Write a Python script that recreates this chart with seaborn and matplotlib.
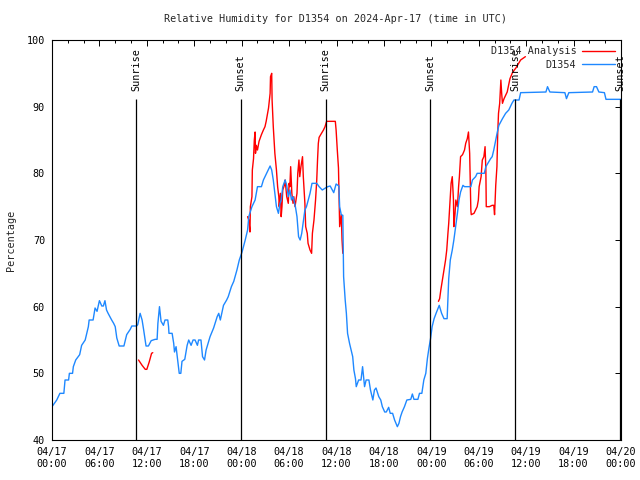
import matplotlib
matplotlib.use("Agg")

import pandas as pd
import numpy as np
import matplotlib.pyplot as plt
import matplotlib.dates as mdates
from matplotlib.lines import Line2D
import seaborn as sns

# hours since 2024-04-17 00:00 UTC, relative humidity (%)
blue_hours = [0.0, 0.6, 1.0, 1.5, 1.65, 2.1, 2.2, 2.6, 2.7, 3.0, 3.5, 3.75, 4.2, 4.6, 4.7, 5.2,
              5.45, 5.7, 6.0, 6.3, 6.5, 6.7, 6.9, 7.1, 7.55, 7.8, 8.0, 8.2, 8.5, 9.1, 9.45, 9.9,
              10.1, 10.7, 10.85, 11.15, 11.4, 11.6, 11.9, 12.2, 12.55, 13.05, 13.3, 13.4, 13.6,
              13.8, 14.1, 14.3, 14.65, 14.75, 14.8, 15.2, 15.4, 15.5, 15.7, 15.8, 16.0, 16.1,
              16.3, 16.45, 16.8, 17.1, 17.3, 17.6, 17.85, 18.1, 18.4, 18.55, 18.85, 19.05, 19.3,
              19.5, 20.0, 20.45, 20.9, 21.1, 21.3, 21.7, 22.1, 22.3, 22.7, 23.0, 23.4, 23.7,
              24.05, 24.45, 24.75, 24.9, 25.3, 25.7, 26.0, 26.5, 26.75, 27.15, 27.6, 27.8, 28.0,
              28.2, 28.4, 28.65, 28.85, 29.0, 29.2, 29.5, 29.7, 29.9, 30.1, 30.3, 30.5, 30.8,
              31.0, 31.2, 31.4, 31.6, 32.0, 32.2, 32.65, 32.9, 33.5, 33.8, 34.2, 34.6, 34.9,
              35.2, 35.65, 35.95, 36.3, 36.4, 36.6, 36.8, 36.9, 37.1, 37.25, 37.4, 37.65, 37.85,
              38.05, 38.2, 38.4, 38.5, 38.8, 39.1, 39.3, 39.55, 39.75, 40.1, 40.3, 40.6, 40.8,
              41.0, 41.35, 41.6, 41.8, 42.1, 42.3, 42.6, 42.8, 43.1, 43.35, 43.7, 43.9, 44.1,
              44.3, 44.6, 44.9, 45.4, 45.6, 45.8, 46.3, 46.5, 46.8, 47.05, 47.3, 47.5, 47.7,
              47.9, 48.1, 48.35, 48.6, 49.0, 49.3, 49.6, 50.0, 50.2, 50.4, 50.65, 50.85, 51.05,
              51.3, 51.5, 51.7, 52.0, 52.2, 53.0, 53.2, 53.6, 53.8, 54.7, 54.9, 55.5, 55.7, 55.9,
              56.15, 56.35, 56.55, 57.0, 57.4, 57.8, 58.2, 58.45, 59.1, 59.3, 62.5, 62.7, 63.0,
              64.9, 65.1, 65.4, 68.4, 68.6, 68.9, 69.2, 69.9, 70.1, 72.0]
blue_rh = [45.0, 46.0, 47.0, 47.0, 49.0, 49.0, 50.0, 50.0, 51.0, 52.0, 52.8, 54.2, 55.0, 57.0, 58.0, 58.0,
           59.8, 59.3, 60.9, 60.1, 60.1, 60.9, 59.5, 59.0, 58.0, 57.5, 57.0, 55.3, 54.1, 54.1, 55.8, 56.6,
           57.1, 57.1, 57.3, 59.0, 58.0, 56.5, 54.1, 54.1, 54.9, 55.1, 55.1, 57.5, 60.0,
           57.8, 57.2, 58.0, 58.0, 57.0, 56.0, 56.0, 54.5, 53.2, 54.0, 53.0, 51.0, 50.0,
           50.0, 51.8, 52.1, 54.2, 55.0, 54.2, 55.0, 55.0, 54.2, 55.0, 55.0, 52.5, 52.0,
           53.5, 55.5, 56.8, 58.5, 59.0, 58.0, 60.2, 61.0, 61.5, 63.0, 63.8, 65.5, 67.0,
           68.2, 70.0, 71.5, 73.5, 75.0, 76.0, 78.0, 78.0, 79.0, 80.0, 81.1, 80.5, 79.0,
           77.0, 75.0, 74.0, 75.5, 76.0, 78.0, 79.0, 78.2, 76.5, 77.5, 76.0, 76.5, 75.0,
           73.5, 70.5, 70.0, 71.0, 74.5, 75.0, 77.0, 78.5, 78.5, 78.0, 77.5, 77.8, 78.0,
           78.1, 77.1, 78.4, 78.1, 75.0, 73.8, 73.7, 64.5, 61.0, 59.0, 56.0, 54.5, 53.5,
           52.5, 50.5, 49.2, 48.0, 49.0, 49.0, 51.0, 48.0, 49.0, 49.0, 47.5, 46.0, 47.5,
           47.8, 46.5, 46.0, 45.0, 44.2, 44.2, 44.9, 44.0, 44.0, 43.0, 42.0, 42.5, 43.5,
           44.2, 45.0, 46.0, 46.1, 46.9, 46.1, 46.1, 47.0, 47.0, 49.0, 50.0, 52.2, 53.8,
           55.2, 57.0, 58.2, 59.0, 60.2, 59.0, 58.2, 58.2, 64.2, 67.0, 68.5, 70.0, 71.8,
           74.0, 76.0, 77.2, 78.2, 78.0, 78.0, 79.0, 79.5, 80.0, 80.0, 81.0, 82.2, 82.5, 83.5,
           85.0, 86.2, 87.2, 88.2, 89.0, 89.5, 90.5, 91.0, 91.0, 92.1, 92.2, 93.0, 92.2,
           92.1, 91.2, 92.1, 92.2, 93.0, 93.0, 92.2, 92.1, 91.1, 91.1]

red1_hours = [10.95, 11.4, 11.8, 12.0, 12.3, 12.6, 12.75]
red1_rh = [52.0, 51.2, 50.6, 50.6, 51.7, 53.0, 53.1]

red2_hours = [24.75, 24.9, 25.05, 25.1, 25.3, 25.35, 25.5, 25.6, 25.7, 25.75, 25.85, 26.0, 26.2,
              26.5, 26.75, 26.95, 27.1, 27.4, 27.6, 27.65, 27.8, 27.85, 28.0, 28.2, 28.4, 28.55,
              28.7, 28.75, 28.9, 29.0, 29.1, 29.2, 29.4, 29.5, 29.7, 29.9, 30.0, 30.1, 30.2,
              30.35, 30.5, 30.6, 30.75, 31.0, 31.1, 31.25, 31.35, 31.5, 31.7, 31.8, 32.0, 32.1,
              32.3, 32.4, 32.65, 32.85, 32.95, 33.15, 33.35, 33.5, 33.6, 33.7, 33.8, 34.0, 34.35,
              34.55, 34.75, 35.85, 35.95, 36.1, 36.25, 36.3, 36.4, 36.6, 36.7, 36.8]
red2_rh = [73.5, 73.0, 71.2, 75.0, 76.5, 80.5, 82.2, 85.0, 86.2, 83.0, 84.2, 83.5, 84.8,
           85.8, 86.5, 87.0, 87.8, 89.8, 92.0, 94.5, 95.0, 91.0, 87.0, 83.0, 80.5, 78.0,
           76.5, 75.0, 77.0, 73.5, 75.0, 77.5, 78.2, 79.0, 76.5, 75.5, 78.5, 78.0, 81.0,
           77.0, 75.5, 76.5, 75.0, 77.0, 80.0, 82.0, 79.5, 81.0, 82.5, 79.5, 75.5, 72.0,
           71.0, 69.5, 68.5, 68.0, 71.0, 73.0, 76.0, 79.0, 82.0, 84.5, 85.4, 85.8, 86.5,
           87.0, 87.8, 87.8, 86.5, 83.5, 80.8, 78.0, 72.0, 73.8, 70.0, 68.0]

red3_hours = [48.9, 49.05, 49.2, 49.4, 49.6, 49.8, 49.95, 50.1, 50.2, 50.35, 50.5, 50.65, 50.8,
              50.85, 51.0, 51.1, 51.3, 51.45, 51.55, 51.7, 51.95, 52.2, 52.35, 52.55, 52.7, 52.85,
              53.0, 53.05, 53.4, 53.8, 53.95, 54.05, 54.3, 54.45, 54.65, 54.8, 54.9, 54.95, 55.35,
              55.7, 55.9, 56.0, 56.15, 56.3, 56.4, 56.5, 56.65, 56.8, 56.9, 57.0, 57.2, 57.6,
              57.95, 58.3, 58.7, 59.3, 59.9]
red3_rh = [60.8, 61.2, 62.5, 64.0, 65.5, 67.0, 68.5, 71.0, 72.5, 75.5, 78.5, 79.5, 76.0,
           72.0, 74.0, 76.0, 75.0, 78.0, 79.5, 82.5, 82.8, 83.5, 84.5, 85.2, 86.2, 83.0,
           74.5, 73.8, 74.0, 75.0, 76.0, 78.0, 79.5, 82.0, 82.5, 84.0, 80.5, 75.0, 75.0,
           75.2, 75.2, 73.8, 78.2, 81.0, 86.0, 89.0, 90.5, 94.0, 92.0, 90.5, 91.2, 92.2,
           94.2, 95.2, 95.8, 97.0, 97.5]

sun_hours = [10.67, 23.88, 34.63, 47.85, 58.6, 71.88]
sun_labels = ["Sunrise", "Sunset", "Sunrise", "Sunset", "Sunrise", "Sunset"]

start = pd.Timestamp("2024-04-17 00:00")


def to_time(hours):
    return start + pd.to_timedelta(np.array(hours), unit="h")


blue_df = pd.DataFrame({"time": to_time(blue_hours), "rh": blue_rh})
red_df = pd.concat([
    pd.DataFrame({"time": to_time(h), "rh": v, "seg": i})
    for i, (h, v) in enumerate([(red1_hours, red1_rh), (red2_hours, red2_rh), (red3_hours, red3_rh)])
])

sns.set_theme(style="white")
plt.rcParams["font.family"] = ["DejaVu Sans Mono"]
plt.rcParams["font.size"] = 7.3

red = "#ff0000"
blue = "#1e88ff"

fig = plt.figure(figsize=(6.4, 4.8), dpi=100)
ax = fig.add_axes([52 / 640, 40 / 480, 569 / 640, 400 / 480])

sns.lineplot(data=red_df, x="time", y="rh", units="seg", estimator=None, color=red,
             linewidth=1.0, legend=False, ax=ax)
sns.lineplot(data=blue_df, x="time", y="rh", estimator=None, color=blue,
             linewidth=1.0, legend=False, ax=ax)

# sunrise / sunset markers
sun_times = to_time(sun_hours)
ax.vlines(sun_times, 40, 91.2, color="black", linewidth=0.9)
for t, lab in zip(sun_times, sun_labels):
    ax.text(t, 92.3, lab, rotation=90, ha="center", va="bottom", color="black")

ax.set_xlim(start, start + pd.Timedelta(hours=72))
ax.set_ylim(40, 100)
ax.set_yticks(range(40, 101, 10))
ax.xaxis.set_major_locator(mdates.HourLocator(byhour=[0, 6, 12, 18]))
ax.xaxis.set_minor_locator(mdates.HourLocator(interval=2))
ax.xaxis.set_major_formatter(mdates.DateFormatter("%m/%d\n%H:%M"))

ax.tick_params(which="both", direction="in", top=True, right=True, colors="black",
               labelsize=7.3, width=0.7)
ax.tick_params(which="major", length=4.5, pad=5)
ax.tick_params(which="minor", length=2.5)
for s in ax.spines.values():
    s.set_color("black")
    s.set_linewidth(0.8)

ax.set_xlabel("")
ax.set_ylabel("Percentage", fontsize=7.3, labelpad=8)

handles = [Line2D([], [], color=red, linewidth=1.0), Line2D([], [], color=blue, linewidth=1.0)]
ax.legend(handles, ["D1354 Analysis", "D1354"], loc="upper right", frameon=False,
          markerfirst=False, handlelength=3.2, handletextpad=0.6, labelspacing=0.35,
          borderaxespad=0.2, fontsize=7.3)

fig.text(336 / 640, 1 - 19 / 480, "Relative Humidity for D1354 on 2024-Apr-17 (time in UTC)",
         ha="center", va="center", fontsize=7.3)

fig.savefig("out.png", dpi=100)
